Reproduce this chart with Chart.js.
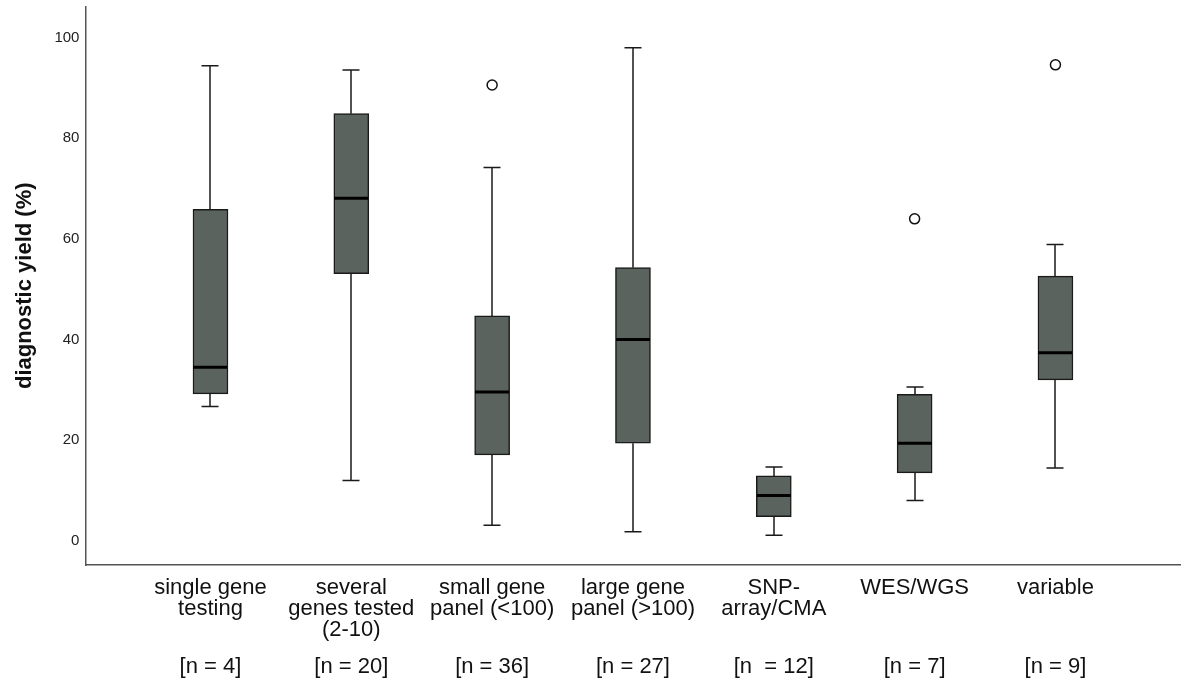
<!DOCTYPE html>
<html>
<head>
<meta charset="utf-8">
<script src="https://cdn.jsdelivr.net/npm/chart.js@4.4.1/dist/chart.umd.min.js"></script>
<style>
  html, body { margin: 0; padding: 0; background: #fff; }
  #wrap { width: 1187px; height: 692px; }
</style>
</head>
<body>
<div id="wrap"><canvas id="myChart"></canvas></div>
<script>
// datos
const categories = ['single gene\ntesting', 'several\ngenes tested\n(2-10)', 'small gene\npanel (<100)', 'large gene\npanel (>100)', 'SNP-\narray/CMA', 'WES/WGS', 'variable'];
const nLabels = ['[n = 4]', '[n = 20]', '[n = 36]', '[n = 27]', '[n  = 12]', '[n = 7]', '[n = 9]'];
const whiskerLow = [26.7, 12.0, 3.1, 1.8, 1.1, 8.0, 14.5];
const q1 = [29.2, 53.1, 17.1, 19.4, 4.8, 13.5, 32.0];
const median = [34.5, 68.1, 29.6, 40.0, 9.0, 19.4, 37.4];
const q3 = [65.9, 84.9, 44.7, 54.3, 12.9, 29.1, 52.6];
const whiskerHigh = [94.4, 93.6, 74.2, 98.0, 14.7, 30.6, 58.9];
const outlierCat = [2, 5, 6];
const outlierVal = [90.6, 64.0, 94.6];
const yTicks = [0, 20, 40, 60, 80, 100];

const FONT = "'Liberation Sans', Arial, Helvetica, sans-serif";
const BOX_W = 35;
const CAP_W = 17;

// bigotes y medianas
const boxPlugin = {
    id: 'boxExtras',
    beforeDatasetsDraw(chart) {
        const { ctx, scales: { x, y } } = chart;
        ctx.save();
        ctx.strokeStyle = '#1a1a1a';
        ctx.lineWidth = 1.5;
        categories.forEach((c, i) => {
            const cx = Math.round(x.getPixelForValue(i));
            const top = y.getPixelForValue(whiskerHigh[i]);
            const bot = y.getPixelForValue(whiskerLow[i]);
            ctx.beginPath();
            ctx.moveTo(cx, top);
            ctx.lineTo(cx, y.getPixelForValue(q3[i]));
            ctx.moveTo(cx, y.getPixelForValue(q1[i]));
            ctx.lineTo(cx, bot);
            ctx.moveTo(cx - CAP_W / 2, top);
            ctx.lineTo(cx + CAP_W / 2, top);
            ctx.moveTo(cx - CAP_W / 2, bot);
            ctx.lineTo(cx + CAP_W / 2, bot);
            ctx.stroke();
        });
        ctx.restore();
    },
    afterDatasetsDraw(chart) {
        const { ctx, scales: { x, y } } = chart;
        ctx.save();
        ctx.strokeStyle = '#000';
        ctx.lineWidth = 3;
        categories.forEach((c, i) => {
            const cx = Math.round(x.getPixelForValue(i));
            const my = y.getPixelForValue(median[i]);
            ctx.beginPath();
            ctx.moveTo(cx - BOX_W / 2 + 0.5, my);
            ctx.lineTo(cx + BOX_W / 2 - 0.5, my);
            ctx.stroke();
        });
        ctx.restore();
    }
};

const catTicks = (scale) => { scale.ticks = categories.map((c, i) => ({ value: i })); };

const ctx = document.getElementById('myChart').getContext('2d');
new Chart(ctx, {
    type: 'bar',
    data: {
        datasets: [
            {
                type: 'bar',
                data: categories.map((c, i) => ({ x: i, y: [q1[i], q3[i]] })),
                backgroundColor: '#5b635e',
                borderColor: '#1a1a1a',
                borderWidth: 1.5,
                borderSkipped: false,
                barThickness: BOX_W
            },
            {
                type: 'scatter',
                data: outlierCat.map((c, i) => ({ x: c, y: outlierVal[i] })),
                pointRadius: 5,
                pointBorderWidth: 1.5,
                borderColor: '#111',
                backgroundColor: '#fff'
            }
        ]
    },
    options: {
        responsive: true,
        maintainAspectRatio: false,
        animation: false,
        layout: { padding: { top: 6, right: 3, left: 0, bottom: 11 } },
        plugins: { legend: { display: false }, tooltip: { enabled: false } },
        scales: {
            x: {
                type: 'linear',
                offset: false,
                min: -0.888,
                max: 6.888,
                grid: { display: false, drawTicks: false },
                border: { color: '#555', width: 1.5 },
                afterBuildTicks: catTicks,
                ticks: {
                    autoSkip: false,
                    maxRotation: 0,
                    padding: 12,
                    color: '#111',
                    font: { family: FONT, size: 22, lineHeight: '21px' },
                    callback: (v) => categories[v] ? categories[v].split('\n') : ''
                }
            },
            xN: {
                type: 'linear',
                position: 'bottom',
                offset: false,
                min: -0.888,
                max: 6.888,
                grid: { display: false, drawTicks: false },
                border: { display: false },
                afterBuildTicks: catTicks,
                ticks: {
                    autoSkip: false,
                    maxRotation: 0,
                    padding: 4,
                    color: '#111',
                    font: { family: FONT, size: 22, lineHeight: '21px' },
                    callback: (v) => nLabels[v] || ''
                }
            },
            y: {
                min: -4.8,
                max: 106.2,
                grid: { display: false, drawTicks: false },
                border: { color: '#555', width: 1.5 },
                afterBuildTicks: (scale) => { scale.ticks = yTicks.map(v => ({ value: v })); },
                ticks: {
                    padding: 6,
                    color: '#222',
                    font: { family: FONT, size: 15, lineHeight: 0.01 }
                },
                title: {
                    display: true,
                    text: 'diagnostic yield (%)',
                    color: '#111',
                    font: { family: FONT, size: 22, weight: 'bold' },
                    padding: { top: 12, bottom: 10 }
                }
            }
        }
    },
    plugins: [boxPlugin]
});
</script>
</body>
</html>
